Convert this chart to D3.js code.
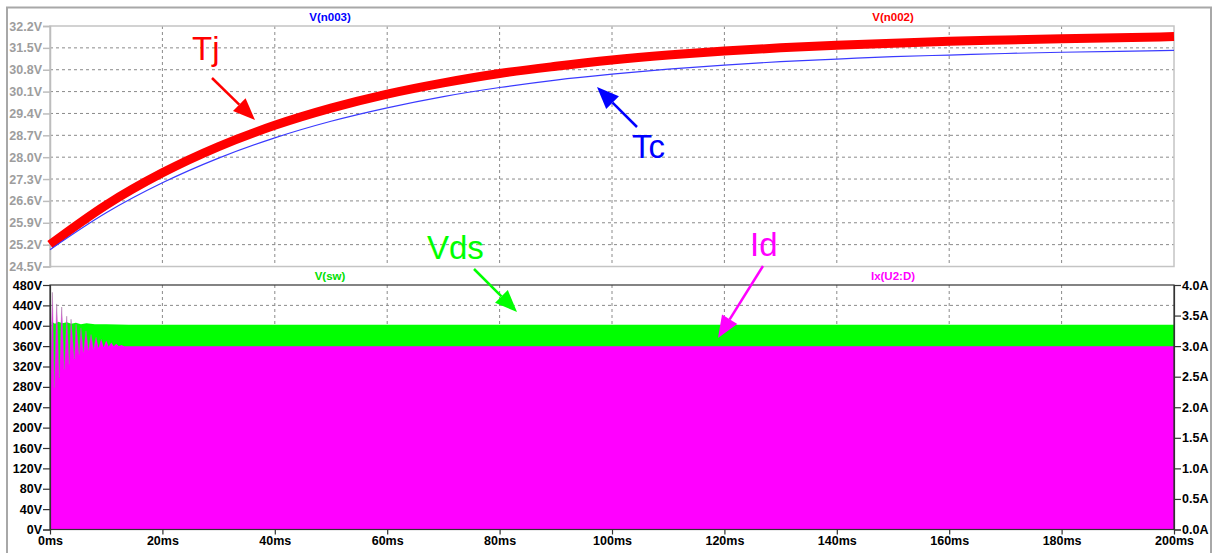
<!DOCTYPE html>
<html>
<head>
<meta charset="utf-8">
<script src="https://cdn.jsdelivr.net/npm/d3@7/dist/d3.min.js"></script>
<style>
  html, body { margin: 0; padding: 0; background: #fff; }
  svg { display: block; }
  text { font-family: "Liberation Sans", Arial, sans-serif; }
</style>
</head>
<body>
<script>
// ---------------- data ----------------
const timeMs = [0,10,20,30,40,50,60,70,80,90,100,110,120,130,140,150,160,170,180,190,200];
const tjValues = [25.20,26.47,27.50,28.34,29.02,29.57,30.02,30.38,30.68,30.91,31.11,31.27,31.40,31.50,31.58,31.65,31.71,31.75,31.79,31.82,31.86];
const tcValues = [25.04,26.22,27.18,27.97,28.62,29.15,29.58,29.94,30.23,30.47,30.66,30.82,30.95,31.06,31.14,31.22,31.27,31.32,31.36,31.39,31.42];

// Id ringing (ms, A): peaks and troughs
const idTimes  = [0,0.42,0.77,1.19,1.66,2.08,2.55,2.97,3.44,3.74,4.33,4.63,5.2,5.5,5.95,6.4,6.85,7.3,7.75,8.2,8.65,9.1,9.55,10.0,10.45,10.9,11.35,11.8,12.25,12.7,13.2,14,200];
const idValues = [2.1,3.88,2.32,3.69,2.48,3.64,2.62,3.49,2.70,3.44,2.79,3.36,2.86,3.30,2.90,3.25,2.93,3.19,2.95,3.15,2.97,3.12,2.98,3.09,2.99,3.06,3.0,3.04,3.0,3.02,3.0,3.0,3.0];
// Vds (ms, V)
const vdsTimes  = [0,0.3,0.9,1.5,2.2,3.0,3.8,4.6,5.5,6.5,8,10,14,200];
const vdsValues = [255,408,404,408,405,407,404,406,403,405,403,403,402,402];

const xTickValues = [0,20,40,60,80,100,120,140,160,180,200];
const tempTickValues = [24.5,25.2,25.9,26.6,27.3,28.0,28.7,29.4,30.1,30.8,31.5,32.2];
const voltTickValues = [0,40,80,120,160,200,240,280,320,360,400,440,480];
const ampTickValues = [0,0.5,1.0,1.5,2.0,2.5,3.0,3.5,4.0];

const traceNames = { tc: "V(n003)", tj: "V(n002)", vds: "V(sw)", id: "Ix(U2:D)" };
const notes = { tj: "Tj", tc: "Tc", vds: "Vds", id: "Id" };

// ---------------- layout ----------------
const W = 1214, H = 553;
const L = 50, R = 1174;
const topY0 = 26, topY1 = 266.5;
const botY0 = 285, botY1 = 529.5;

const svg = d3.select("body").append("svg").attr("width", W).attr("height", H);

// window frame
svg.append("path").attr("d", `M7,${H} V7.5 H1211 V${H}`)
  .attr("fill", "none").attr("stroke", "#a8a8a8").attr("stroke-width", 2);

const x = d3.scaleLinear().domain([0, 200]).range([L, R]);
const yTemp = d3.scaleLinear().domain([24.5, 32.2]).range([topY1, topY0]);
const yVolt = d3.scaleLinear().domain([0, 480]).range([botY1, botY0]);
const yAmp = d3.scaleLinear().domain([0, 4.0]).range([botY1, botY0]);

const gridDash = "3,3";
const gridColor = "#8a8a8a";

// ---------- top panel ----------
const topG = svg.append("g");
topG.append("g").selectAll("line").data(xTickValues.slice(1, -1)).join("line")
  .attr("x1", d => x(d)).attr("x2", d => x(d)).attr("y1", topY0).attr("y2", topY1)
  .attr("stroke", gridColor).attr("stroke-dasharray", gridDash).attr("stroke-width", 1);
topG.append("g").selectAll("line").data(tempTickValues.slice(1, -1)).join("line")
  .attr("x1", L).attr("x2", R).attr("y1", d => yTemp(d)).attr("y2", d => yTemp(d))
  .attr("stroke", gridColor).attr("stroke-dasharray", gridDash).attr("stroke-width", 1);
topG.append("rect").attr("x", L).attr("y", topY0).attr("width", R - L).attr("height", topY1 - topY0)
  .attr("fill", "none").attr("stroke", "#c4c4c4").attr("stroke-width", 1.5);
const topAxis = topG.append("g").attr("transform", `translate(${L},0)`)
  .call(d3.axisLeft(yTemp).tickValues(tempTickValues).tickSize(7).tickPadding(1)
    .tickFormat(d => d3.format(".1f")(d) + "V"));
topAxis.select(".domain").attr("stroke", "#bdbdbd").attr("stroke-width", 1.5);
topAxis.selectAll(".tick line").attr("stroke", "#bdbdbd").attr("stroke-width", 1.5);
topAxis.selectAll(".tick text").attr("fill", "#9d9d9d").attr("font-size", 12.5)
  .attr("font-weight", "bold").attr("font-family", "Liberation Sans, Arial, sans-serif");

const tempLine = vals => d3.line().x((d, i) => x(timeMs[i])).y(d => yTemp(d)).curve(d3.curveMonotoneX)(vals);
topG.append("path").attr("d", tempLine(tjValues)).attr("fill", "none")
  .attr("stroke", "#ff0000").attr("stroke-width", 9).attr("stroke-linecap", "butt");
topG.append("path").attr("d", tempLine(tcValues)).attr("fill", "none")
  .attr("stroke", "#3a3aff").attr("stroke-width", 1.2);

topG.append("text").attr("x", 330).attr("y", 20.5).attr("text-anchor", "middle")
  .attr("font-size", 11.5).attr("font-weight", "bold").attr("fill", "#0000ff").text(traceNames.tc);
topG.append("text").attr("x", 893).attr("y", 20.5).attr("text-anchor", "middle")
  .attr("font-size", 11.5).attr("font-weight", "bold").attr("fill", "#ff0000").text(traceNames.tj);

// ---------- bottom panel ----------
const botG = svg.append("g");
botG.append("g").selectAll("line").data(xTickValues.slice(1, -1)).join("line")
  .attr("x1", d => x(d)).attr("x2", d => x(d)).attr("y1", botY0).attr("y2", botY1)
  .attr("stroke", gridColor).attr("stroke-dasharray", gridDash).attr("stroke-width", 1);
botG.append("g").selectAll("line").data(voltTickValues.slice(1, -1)).join("line")
  .attr("x1", L).attr("x2", R).attr("y1", d => yVolt(d)).attr("y2", d => yVolt(d))
  .attr("stroke", gridColor).attr("stroke-dasharray", gridDash).attr("stroke-width", 1);

const vdsArea = d3.area().x((d, i) => x(vdsTimes[i])).y0(yVolt(0)).y1(d => yVolt(d));
botG.append("path").attr("d", vdsArea(vdsValues)).attr("fill", "#00ff00");

const idArea = d3.area().x((d, i) => x(idTimes[i])).y0(yAmp(0)).y1(d => yAmp(d));
botG.append("path").attr("d", idArea(idValues)).attr("fill", "#ff00ff");
const ringIdx = idValues.map((v, i) => i).filter(i => idTimes[i] <= 8.2);
const ringLine = d3.line().x(i => x(idTimes[i])).y(i => yAmp(idValues[i]));
botG.append("path").attr("d", ringLine(ringIdx)).attr("fill", "none")
  .attr("stroke", "#a07aa0").attr("stroke-width", 0.8).attr("opacity", 0.6);

botG.append("rect").attr("x", L).attr("y", botY0).attr("width", R - L).attr("height", botY1 - botY0)
  .attr("fill", "none").attr("stroke", "#333").attr("stroke-width", 1.2);

const styleAxis = g => {
  g.select(".domain").attr("stroke", "#333").attr("stroke-width", 1.2);
  g.selectAll(".tick line").attr("stroke", "#333").attr("stroke-width", 1.2);
  g.selectAll(".tick text").attr("fill", "#000").attr("font-size", 12.5)
    .attr("font-weight", "bold").attr("font-family", "Liberation Sans, Arial, sans-serif");
};
botG.append("g").attr("transform", `translate(${L},0)`)
  .call(d3.axisLeft(yVolt).tickValues(voltTickValues).tickSize(7).tickPadding(1).tickFormat(d => d + "V"))
  .call(styleAxis);
botG.append("g").attr("transform", `translate(${R},0)`)
  .call(d3.axisRight(yAmp).tickValues(ampTickValues).tickSize(7).tickPadding(1).tickFormat(d => d3.format(".1f")(d) + "A"))
  .call(styleAxis);
const xAx = botG.append("g").attr("transform", `translate(0,${botY1})`)
  .call(d3.axisBottom(x).tickValues(xTickValues).tickSize(5).tickPadding(2).tickFormat(d => d + "ms"))
  .call(styleAxis);
xAx.select(".domain").remove();

botG.append("text").attr("x", 330).attr("y", 280).attr("text-anchor", "middle")
  .attr("font-size", 11.5).attr("font-weight", "bold").attr("fill", "#00e000").text(traceNames.vds);
botG.append("text").attr("x", 893).attr("y", 280).attr("text-anchor", "middle")
  .attr("font-size", 11.5).attr("font-weight", "bold").attr("fill", "#ff00ff").text(traceNames.id);

// ---------- annotations ----------
function arrow(x1, y1, x2, y2, color) {
  const ang = Math.atan2(y2 - y1, x2 - x1);
  const len = 22, half = 9;
  const bx = x2 - len * Math.cos(ang), by = y2 - len * Math.sin(ang);
  const px = -Math.sin(ang) * half, py = Math.cos(ang) * half;
  svg.append("line").attr("x1", x1).attr("y1", y1).attr("x2", bx).attr("y2", by)
    .attr("stroke", color).attr("stroke-width", 2.5);
  svg.append("path").attr("d", `M${x2},${y2} L${bx + px},${by + py} L${bx - px},${by - py} Z`).attr("fill", color);
}
function note(txt, xx, yy, color) {
  svg.append("text").attr("x", xx).attr("y", yy).attr("font-size", 33)
    .attr("fill", color).text(txt);
}
note(notes.tj, 192, 60, "#ff0000");
arrow(212, 78, 255, 120, "#ff0000");
note(notes.tc, 632, 158, "#0000ff");
arrow(637, 127, 597, 87, "#0000ff");
note(notes.vds, 427, 259, "#00ff00");
arrow(474, 269, 517, 312, "#00ff00");
note(notes.id, 750, 256, "#ff00ff");
arrow(763, 266, 718, 338, "#ff00ff");
</script>
</body>
</html>
